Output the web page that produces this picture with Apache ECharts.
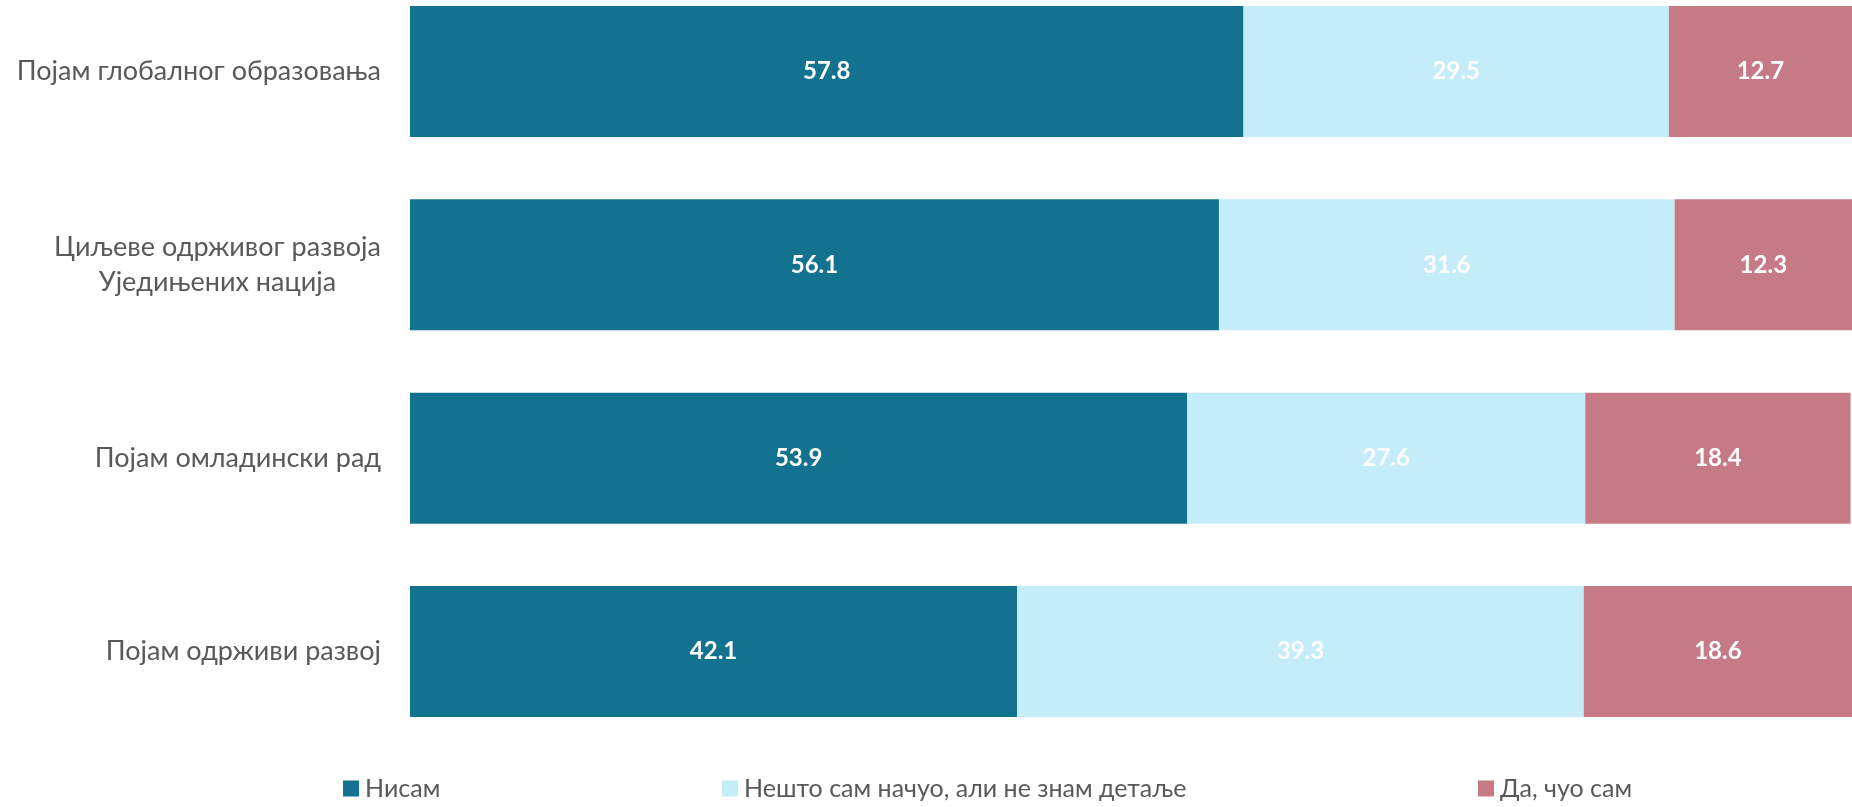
<!DOCTYPE html>
<html>
<head>
<meta charset="utf-8">
<script src="https://cdn.jsdelivr.net/npm/echarts@6/dist/echarts.min.js"></script>
<style>html,body{margin:0;padding:0;background:#fff;}#c{width:1852px;height:807px;}</style>
</head>
<body>
<div id="c"></div>
<script>
const categories = ['Појам глобалног образовања', 'Циљеве одрживог развоја\nУједињених нација', 'Појам омладински рад', 'Појам одрживи развој'];
const seriesNames = ['Нисам', 'Нешто сам начуо, али не знам детаље', 'Да, чуо сам'];
const nisam = [57.8, 56.1, 53.9, 42.1];
const nestoSam = [29.5, 31.6, 27.6, 39.3];
const daCuo = [12.7, 12.3, 18.4, 18.6];

const FONT = 'Lato';
const colors = ['#137290', '#C4ECF9', '#C67A86'];
const catSize = 27;

const cv = document.createElement('canvas').getContext('2d');
cv.font = catSize + 'px ' + FONT;
const longestLine = Math.ceil(Math.max(...categories.map(c => c.split('\n')[0]).filter((c, i) => categories[i].includes('\n')).map(l => cv.measureText(l).width)));

const chart = echarts.init(document.getElementById('c'));
const mk = (name, data, i) => ({
  name: name, type: 'bar', stack: 'total', data: data, barWidth: 131,
  itemStyle: {color: colors[i]},
  label: {show: true, position: 'inside', color: '#fff', fontWeight: 'bold', fontSize: 24, fontFamily: FONT,
    formatter: p => p.value.toFixed(1)}
});
const legendBase = {itemWidth: 16, itemHeight: 16, itemGap: 8, icon: 'rect', padding: 0,
  textStyle: {fontSize: 25, color: '#595959', fontFamily: FONT, padding: [0,0,0,1]}, top: 776};

chart.setOption({
  animation: false,
  grid: {left: 410, right: 0, top: 71.6, bottom: 155.6},
  xAxis: {type: 'value', min: 0, max: 100, show: false},
  yAxis: {type: 'category', data: categories, inverse: true, boundaryGap: false,
    axisLine: {show: false}, axisTick: {show: false}, splitLine: {show: false},
    axisLabel: {margin: 29, fontSize: catSize, color: '#595959', fontFamily: FONT, lineHeight: 35,
      formatter: v => {
        const lines = v.split('\n');
        if (lines.length === 1) return v;
        return lines.map(l => '{c|' + l + '}').join('\n');
      },
      rich: {c: {fontSize: catSize, color: '#595959', fontFamily: FONT, lineHeight: 35, align: 'center', width: longestLine}}
    }},
  legend: [
    Object.assign({}, legendBase, {left: 343, data: [seriesNames[0]]}),
    Object.assign({}, legendBase, {left: 722, data: [seriesNames[1]]}),
    Object.assign({}, legendBase, {left: 1478, data: [seriesNames[2]]})
  ],
  series: [mk(seriesNames[0], nisam, 0), mk(seriesNames[1], nestoSam, 1), mk(seriesNames[2], daCuo, 2)]
});
</script>
</body>
</html>
